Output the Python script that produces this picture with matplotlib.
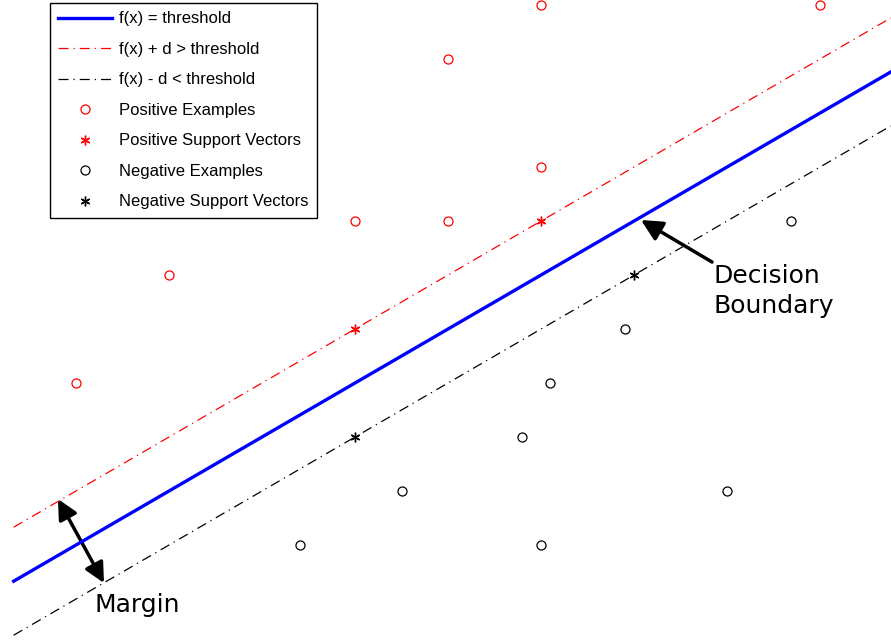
import matplotlib
matplotlib.use("Agg")
import matplotlib.pyplot as plt
from matplotlib.patches import FancyArrowPatch

# data (grid units)
pos_x = [1, 2, 4, 5, 5, 6, 6, 9]
pos_y = [4, 6, 7, 7, 10, 11, 8, 11]
pos_sv_x = [4, 6]
pos_sv_y = [5, 7]
neg_x = [3.41, 4.5, 5.8, 6.1, 6.9, 8.0, 8.69, 6.0]
neg_y = [1, 2, 3, 4, 5, 2, 7, 1]
neg_sv_x = [4, 7]
neg_sv_y = [3, 6]

# lines y = x + offset
line_x = [0.33, 9.76]
offset_boundary = 0.0
offset_margin = 1.0

fig = plt.figure(figsize=(8.91, 6.42), dpi=100)
ax = fig.add_axes([0, 0, 1, 1])
ax.set_xlim(0.183, 9.763)
ax.set_ylim(-0.796, 11.093)
ax.axis("off")

ax.plot(line_x, [x + offset_boundary for x in line_x], color="blue", lw=2.4,
        label="f(x) = threshold")
ax.plot(line_x, [x + offset_margin for x in line_x], color="red", lw=0.9,
        dashes=(8, 4, 1, 4), label="f(x) + d > threshold")
ax.plot(line_x, [x - offset_margin for x in line_x], color="black", lw=0.9,
        dashes=(8, 4, 1, 4), label="f(x) - d < threshold")

ax.plot(pos_x, pos_y, "o", mfc="none", mec="red", ms=6.5, mew=0.9,
        label="Positive Examples")
ax.plot(pos_sv_x, pos_sv_y, marker=(6, 2, 0), ls="none", color="red", ms=7,
        mew=1.0, label="Positive Support Vectors")
ax.plot(neg_x, neg_y, "o", mfc="none", mec="black", ms=6.5, mew=0.9,
        label="Negative Examples")
ax.plot(neg_sv_x, neg_sv_y, marker=(6, 2, 0), ls="none", color="black", ms=7,
        mew=1.0, label="Negative Support Vectors")

leg = ax.legend(loc="upper left", bbox_to_anchor=(50 / 891, 1 - 3 / 642),
                prop={"family": "Liberation Sans", "size": 12},
                handlelength=3.2, labelspacing=0.93, borderpad=0.5,
                fancybox=False, edgecolor="black", framealpha=1,
                borderaxespad=0, handletextpad=0.45)
leg.get_frame().set_linewidth(1.0)

# arrows
def px(xp, yp):
    return ((xp - 76) / 93 + 1, (545 - yp) / 54 + 1)

arr1 = FancyArrowPatch(px(712, 262), px(641, 220), arrowstyle="-|>",
                       mutation_scale=32, lw=2.5, color="black",
                       shrinkA=0, shrinkB=0)
ax.add_patch(arr1)
arr2 = FancyArrowPatch(px(58, 499), px(104, 583), arrowstyle="<|-|>",
                       mutation_scale=30, lw=2.5, color="black",
                       shrinkA=0, shrinkB=0)
ax.add_patch(arr2)

tx, ty = px(713, 264)
ax.text(tx, ty, "Decision\nBoundary", fontsize=18, family="DejaVu Sans",
        ha="left", va="top", linespacing=1.32)
tx, ty = px(95, 593)
ax.text(tx, ty, "Margin", fontsize=18, family="DejaVu Sans",
        ha="left", va="top")

fig.savefig("out.png", dpi=100)
